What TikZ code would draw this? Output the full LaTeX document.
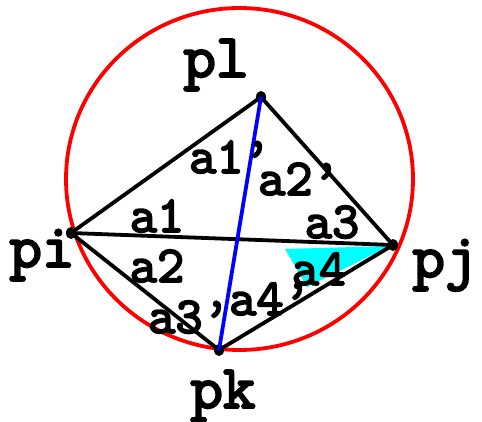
\documentclass[tikz,border=0pt]{standalone}
\usepackage{fontspec}
\newfontfamily\courb{lmmono10-regular.otf}[FakeBold=3.2]
\usetikzlibrary{shapes.geometric}
\definecolor{aqua}{rgb}{0,1,1}
\definecolor{pureblue}{rgb}{0,0,1}
\definecolor{purered}{rgb}{1,0,0}
\tikzset{
  vertex/.style={shape=ellipse, fill=black, draw=none, inner sep=0pt, minimum width=10pt, minimum height=12pt},
  edge/.style={line width=3.8pt, black},
  plab/.style={font=\courb\fontsize{62}{62}\selectfont, inner sep=0pt, anchor=base},
  alab/.style={font=\courb\fontsize{52}{52}\selectfont, inner sep=0pt, anchor=base},
}
\begin{document}
\begin{tikzpicture}[x=1pt,y=-1pt]
\useasboundingbox (0,0) rectangle (482,422);
\fill[aqua] (285,249) -- (390,246) -- (307,287) -- cycle;
\draw[purered, line width=3.8pt] (239.5,179) ellipse [x radius=173.5, y radius=171];
\node[vertex] (pl) at (261,97) {};
\node[vertex] (pi) at (71,233) {};
\node[vertex] (pj) at (393,245) {};
\node[vertex] (pk) at (219,350) {};
\draw[edge] (pi.center) -- (pl.center);
\draw[edge] (pl.center) -- (pj.center);
\draw[edge] (pi.center) -- (pj.center);
\draw[edge] (pi.center) -- (pk.center);
\draw[edge] (pk.center) -- (pj.center);
\draw[line width=3.8pt, pureblue] (pl.center) -- (pk.center);
\node[plab] (tpl) at (216,77) {pl};
\node[plab] (tpi) at (42,267) {pi};
\node[plab] (tpj) at (445,277) {pj};
\node[plab] (tpk) at (223,408) {pk};
\node[alab] (ta1) at (157,232) {a1};
\node[alab] (ta2) at (157,282) {a2};
\node[alab] (ta3) at (332,238) {a3};
\node[alab] (ta4) at (319,285) {a4};
\node[alab] (ta1p) at (230,173) {a1’};
\node[alab] (ta2p) at (299,195) {a2’};
\node[alab] (ta3p) at (189,333) {a3’};
\node[alab] (ta4p) at (270,315) {a4’};
\end{tikzpicture}
\end{document}
